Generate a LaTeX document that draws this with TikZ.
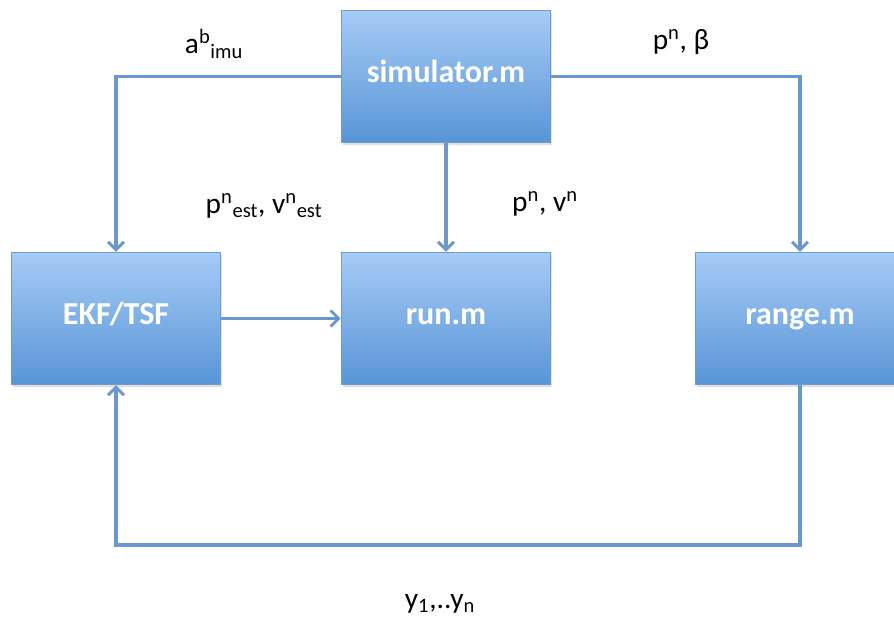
\documentclass[tikz,border=0pt]{standalone}
\usepackage{fontspec}
\setmainfont{Carlito}
\usepackage{tikz}
\usetikzlibrary{arrows.meta}
\usetikzlibrary{shadows}

\definecolor{boxtop}{HTML}{A6CBF6}
\definecolor{boxbot}{HTML}{5895D6}
\definecolor{boxline}{HTML}{6C9CD0}
\definecolor{wire}{HTML}{6A98CE}

\begin{document}
\begin{tikzpicture}[x=0.75pt,y=-0.75pt,line width=2.4pt,
	-{Straight Barb[length=6pt,width=12pt,line width=2.2pt]}]
			
			\tikzstyle{every node}=[font=\fontsize{22}{24}\selectfont]
			\tikzstyle{mfile}=[rectangle, draw=boxline, line width=1pt,
				top color=boxtop, bottom color=boxbot, text=white,
				minimum width=157pt, minimum height=99pt,
				text height=2.1ex, text depth=0.3ex,
				font=\fontsize{24}{26}\selectfont\bfseries,
				drop shadow={shadow xshift=1pt,shadow yshift=-1.5pt,opacity=0.25}]
			
			\fill[white] (0,0) rectangle (894,628);
			\useasboundingbox (0,0) rectangle (894,628);
			
			\node[mfile] (sim) at (446,76.5) {simulator.m};
			\node[mfile] (ekf) at (116,318.5) {EKF/TSF};
			\node[mfile] (run) at (446,318.5) {run.m};
			\node[mfile] (rng) at (800,318.5) {range.m};
			
			\draw[wire] (sim.west) -| (ekf.north);
			\draw[wire] (sim.east) -| (rng.north);
			\draw[wire] (sim.south) -- (run.north);
			\draw[wire] (ekf.east) -- (run.west);
			\coordinate (loop) at (800,545);
			\draw[wire] (rng.south) |- (loop -| ekf.south) -- (ekf.south);
			
			\node (acc) at (214,44) {a\textsuperscript{b}\textsubscript{imu}};
			\node (posbeta) at (681,42) {p\textsuperscript{n}, β};
			\node (est) at (264,206) {p\textsuperscript{n}\textsubscript{est}, v\textsuperscript{n}\textsubscript{est}};
			\node (posvel) at (545,204) {p\textsuperscript{n}, v\textsuperscript{n}};
			\node (meas) at (440,604) {y\textsubscript{1},..y\textsubscript{n}};
			\end{tikzpicture}
\end{document}
